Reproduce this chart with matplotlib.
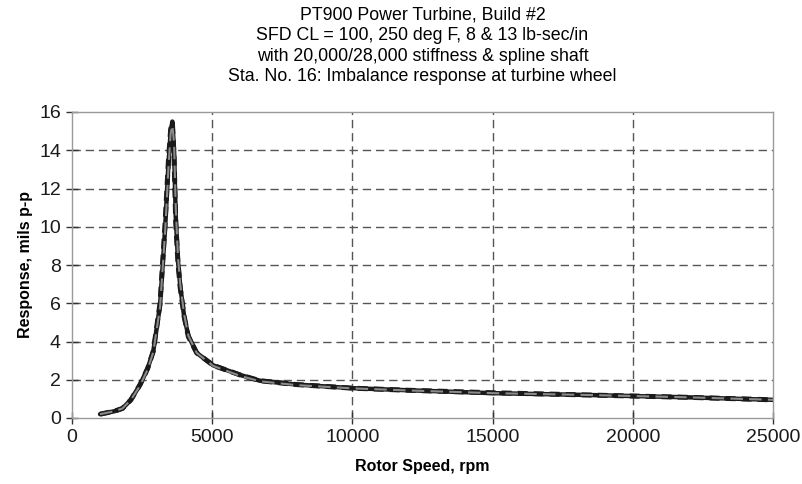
import matplotlib.pyplot as plt
import numpy as np

plt.rcParams['font.family'] = ['Liberation Sans', 'DejaVu Sans']

# 转速 (rpm) 与响应 (mils p-p)
speed = [1000, 1500, 1800, 2100, 2430, 2700, 2900, 3140, 3320, 3440, 3520, 3580,
         3640, 3700, 3780, 3860, 4000, 4150, 4450, 5040, 6000, 6700, 8000, 10000,
         12000, 15000, 18500, 22000, 25000]
resp_a = [0.2, 0.35, 0.5, 0.95, 1.75, 2.6, 3.5, 5.9, 9.9, 13.3, 15.0, 15.5,
          14.0, 10.5, 8.2, 6.9, 5.3, 4.3, 3.4, 2.75, 2.25, 1.95, 1.75, 1.56,
          1.45, 1.3, 1.2, 1.08, 0.95]
resp_b = [0.2, 0.35, 0.5, 0.95, 1.7, 2.55, 3.45, 5.8, 9.7, 13.1, 14.9, 15.3,
          14.4, 11.0, 8.4, 7.0, 5.4, 4.3, 3.4, 2.72, 2.2, 1.92, 1.72, 1.55,
          1.44, 1.3, 1.2, 1.08, 0.95]
resp_c = [0.2, 0.35, 0.5, 0.95, 1.75, 2.6, 3.5, 6.0, 10.2, 13.5, 15.1, 15.45,
          13.6, 10.2, 8.1, 6.8, 5.3, 4.25, 3.4, 2.75, 2.25, 1.95, 1.75, 1.56,
          1.45, 1.32, 1.2, 1.08, 0.95]

xticks = [0, 5000, 10000, 15000, 20000, 25000]
yticks = [0, 2, 4, 6, 8, 10, 12, 14, 16]

fig = plt.figure(figsize=(8.03, 4.84), dpi=100)
ax = fig.add_axes([72/803, 1-418/484, 701/803, 306/484])

ax.plot(speed, resp_a, color='#1a1a1a', linewidth=3.2, solid_capstyle='round')
ax.plot(speed, resp_c, color='#1a1a1a', linewidth=3.6, linestyle=(0, (2, 1.2)))
ax.plot(speed, resp_b, color='#8a8a8a', linewidth=1.5, linestyle=(0, (6, 3)))

ax.set_xlim(0, 25000)
ax.set_ylim(0, 16)
ax.set_xticks(xticks)
ax.set_yticks(yticks)

# 虚线网格，去掉边界处的网格线
ax.grid(True, linestyle=(0, (6, 3.5)), color='#555555', linewidth=1.0)
ax.get_xgridlines()[0].set_visible(False)
ax.get_xgridlines()[-1].set_visible(False)
ax.get_ygridlines()[0].set_visible(False)
ax.get_ygridlines()[-1].set_visible(False)
ax.set_axisbelow(True)

for side in ['top', 'right', 'left', 'bottom']:
    ax.spines[side].set_color('#9a9a9a')
    ax.spines[side].set_linewidth(1.0)
ax.tick_params(axis='both', colors='#333333', labelcolor='#1a1a1a', labelsize=14,
               direction='inout', length=8, width=1.0)
ax.tick_params(axis='x', pad=4)
ax.tick_params(axis='y', pad=4)

ax.set_xlabel('Rotor Speed, rpm', fontsize=11.5, fontweight='bold', labelpad=9)
ax.set_ylabel('Response, mils p-p', fontsize=11.5, fontweight='bold', labelpad=4)

ax.set_title('PT900 Power Turbine, Build #2\n'
             'SFD CL = 100, 250 deg F, 8 & 13 lb-sec/in\n'
             'with 20,000/28,000 stiffness & spline shaft\n'
             'Sta. No. 16: Imbalance response at turbine wheel',
             fontsize=12.8, linespacing=1.28, pad=22)

plt.savefig('out.png', dpi=100)
